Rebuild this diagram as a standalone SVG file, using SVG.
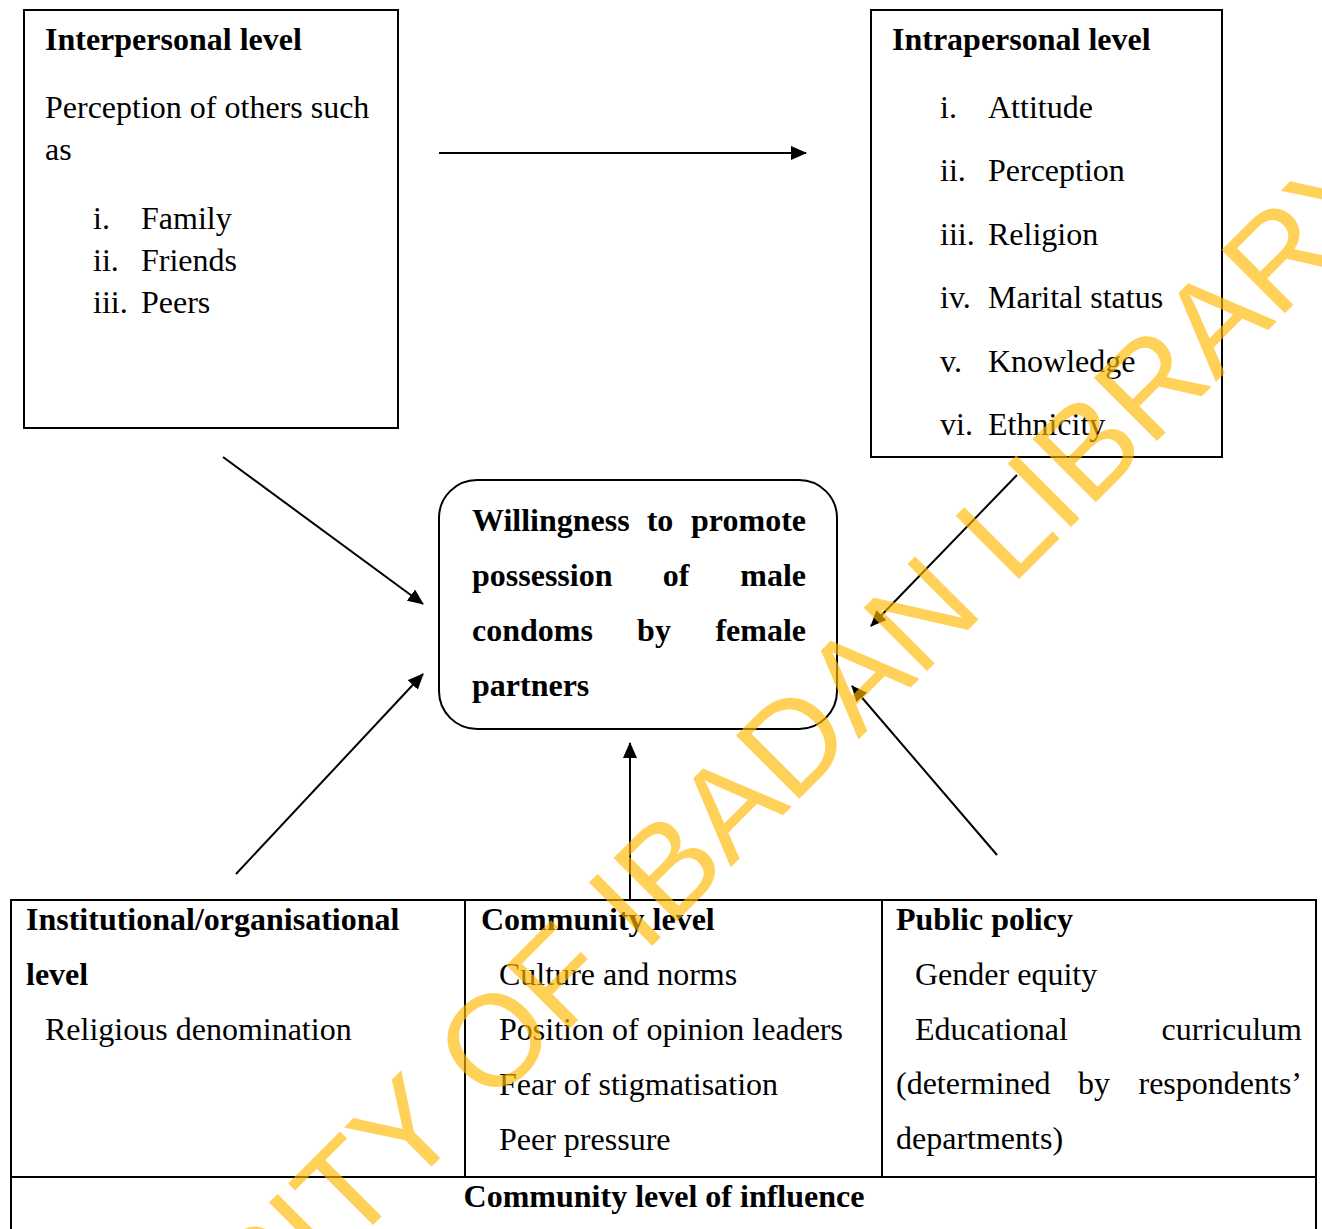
<svg xmlns="http://www.w3.org/2000/svg" width="1322" height="1229" viewBox="0 0 1322 1229">
<style>
  text { font-family: "Liberation Serif", "Times New Roman", serif; font-size: 32px; fill: #000; }
  .b { font-weight: bold; }
  .box { fill: none; stroke: #000; stroke-width: 2; }
  .conn line { stroke: #000; stroke-width: 2; marker-end: url(#ah); }
  .wm { font-family: "Liberation Sans", Arial, sans-serif; font-size: 130px; fill: #FFB800; fill-opacity: 0.65; }
</style>
<defs>
  <marker id="ah" viewBox="0 0 16 14" refX="15" refY="7" markerWidth="16" markerHeight="14" markerUnits="userSpaceOnUse" orient="auto">
    <path d="M0,0 L16,7 L0,14 z" fill="#000"/>
  </marker>
</defs>
<rect width="1322" height="1229" fill="#fff"/>

<g id="interpersonal">
  <rect class="box" x="24" y="10" width="374" height="418"/>
  <text class="b" x="45" y="50">Interpersonal level</text>
  <text x="45" y="118">Perception of others such</text>
  <text x="45" y="160">as</text>
  <text x="93" y="229">i.</text><text x="141" y="229">Family</text>
  <text x="93" y="271">ii.</text><text x="141" y="271">Friends</text>
  <text x="93" y="313">iii.</text><text x="141" y="313">Peers</text>
</g>

<g id="intrapersonal">
  <rect class="box" x="871" y="10" width="351" height="447"/>
  <text class="b" x="892" y="50">Intrapersonal level</text>
  <text x="940" y="118">i.</text><text x="988" y="118">Attitude</text>
  <text x="940" y="181">ii.</text><text x="988" y="181">Perception</text>
  <text x="940" y="245">iii.</text><text x="988" y="245">Religion</text>
  <text x="940" y="308">iv.</text><text x="988" y="308">Marital status</text>
  <text x="940" y="372">v.</text><text x="988" y="372">Knowledge</text>
  <text x="940" y="435">vi.</text><text x="988" y="435">Ethnicity</text>
</g>

<g id="willingness">
  <rect class="box" x="439" y="480" width="398" height="249" rx="38" ry="38"/>
  <text class="b" x="472" y="531">Willingness</text>
  <text class="b" x="660" y="531" text-anchor="middle">to</text>
  <text class="b" x="806" y="531" text-anchor="end">promote</text>
  <text class="b" x="472" y="586">possession</text>
  <text class="b" x="676" y="586" text-anchor="middle">of</text>
  <text class="b" x="806" y="586" text-anchor="end">male</text>
  <text class="b" x="472" y="641">condoms</text>
  <text class="b" x="654" y="641" text-anchor="middle">by</text>
  <text class="b" x="806" y="641" text-anchor="end">female</text>
  <text class="b" x="472" y="696">partners</text>
</g>

<g id="table">
  <rect class="box" x="11" y="900" width="1305" height="360"/>
  <line x1="11" y1="1177" x2="1316" y2="1177" stroke="#000" stroke-width="2"/>
</g>

<g id="institutional">
  <line x1="465" y1="900" x2="465" y2="1177" stroke="#000" stroke-width="2"/>
  <text class="b" x="26" y="930">Institutional/organisational</text>
  <text class="b" x="26" y="985">level</text>
  <text x="45" y="1040">Religious denomination</text>
</g>

<g id="community">
  <text class="b" x="481" y="930">Community level</text>
  <text x="499" y="985">Culture and norms</text>
  <text x="499" y="1040">Position of opinion leaders</text>
  <text x="499" y="1095">Fear of stigmatisation</text>
  <text x="499" y="1150">Peer pressure</text>
</g>

<g id="public-policy">
  <line x1="882" y1="900" x2="882" y2="1177" stroke="#000" stroke-width="2"/>
  <text class="b" x="896" y="930">Public policy</text>
  <text x="915" y="985">Gender equity</text>
  <text x="915" y="1040">Educational</text>
  <text x="1302" y="1040" text-anchor="end">curriculum</text>
  <text x="896" y="1094">(determined</text>
  <text x="1094" y="1094" text-anchor="middle">by</text>
  <text x="1302" y="1094" text-anchor="end">respondents’</text>
  <text x="896" y="1149">departments)</text>
</g>

<g id="community-influence">
  <text class="b" x="664" y="1207" text-anchor="middle">Community level of influence</text>
</g>

<g id="connectors" class="conn">
  <line x1="439" y1="153" x2="806" y2="153"/>
  <line x1="223" y1="457" x2="423" y2="604"/>
  <line x1="236" y1="874" x2="423" y2="674"/>
  <line x1="630" y1="900" x2="630" y2="743"/>
  <line x1="1017" y1="475" x2="871" y2="626"/>
  <line x1="997" y1="855" x2="852" y2="686"/>
</g>

<g id="watermark">
  <text class="wm" transform="translate(-85,1683) rotate(-45)" x="0" y="0">UNIVERSITY OF IBADAN LIBRARY</text>
</g>
</svg>
